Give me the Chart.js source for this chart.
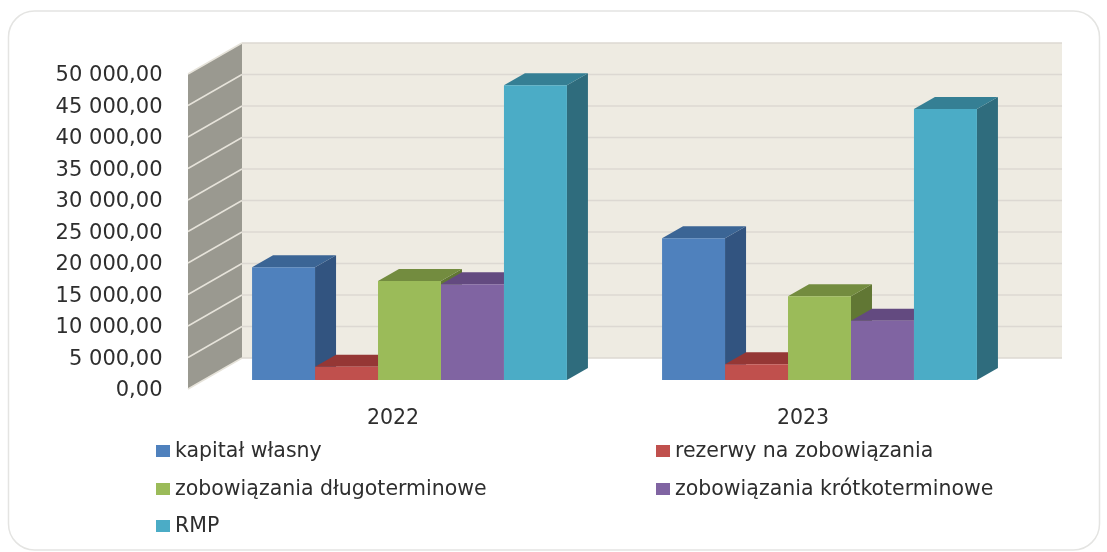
<!DOCTYPE html>
<html>
<head>
<meta charset="utf-8">
<style>
    html, body { margin: 0; padding: 0; background: #fff; }
    canvas { display: block; }
</style>
<script src="https://cdn.jsdelivr.net/npm/chart.js@4"></script>
</head>
<body>
<canvas id="barChart3d" width="1107" height="552"></canvas>
<script>
const years = ["2022", "2023"];
const seriesNames = ["kapitał własny", "rezerwy na zobowiązania", "zobowiązania długoterminowe", "zobowiązania krótkoterminowe", "RMP"];
const kapital = [17900, 22500];
const rezerwy = [2100, 2500];
const dlugie = [15700, 13300];
const krotkie = [15200, 9400];
const rmp = [46800, 43000];
const frontColors = ["#4f81bd", "#c0504d", "#9bbb59", "#8064a2", "#4bacc6"];
const topColors = ["#3b6595", "#953735", "#738c3f", "#634a80", "#357f94"];
const sideColors = ["#325480", "#7f302e", "#617734", "#523d6b", "#2f6c7d"];
const TEXT = "#2e2e2e";
const FONT = "DejaVu Sans";

function poly(ctx, pts, color) {
    ctx.fillStyle = color;
    ctx.beginPath();
    ctx.moveTo(pts[0][0], pts[0][1]);
    for (let i = 1; i < pts.length; i++) ctx.lineTo(pts[i][0], pts[i][1]);
    ctx.closePath();
    ctx.fill();
}

// rounded frame, left wall, back wall
const wallsPlugin = {
    id: "walls",
    beforeDatasetsDraw(chart) {
        const ctx = chart.ctx;
        const y = chart.scales.y;
        const frontX = 188, backX = 242, rightX = 1062;
        const drop = 9, rise = 31;
        const top = y.getPixelForValue(50000) + drop;
        const bottom = y.getPixelForValue(0) + drop;

        ctx.save();
        ctx.strokeStyle = "#e4e4e2";
        ctx.lineWidth = 1.5;
        ctx.beginPath();
        ctx.roundRect(8.5, 11, 1091, 539, 26);
        ctx.stroke();

        poly(ctx, [[backX, top - rise], [rightX, top - rise], [rightX, bottom - rise], [backX, bottom - rise]], "#eeebe2");
        poly(ctx, [[frontX, top], [backX, top - rise], [backX, bottom - rise], [frontX, bottom]], "#9a9990");

        y.ticks.forEach(function (t) {
            const py = y.getPixelForValue(t.value) + drop;
            ctx.strokeStyle = "#e6e3da";
            ctx.lineWidth = 1.5;
            ctx.beginPath();
            ctx.moveTo(frontX, py);
            ctx.lineTo(backX, py - rise);
            ctx.stroke();
            ctx.strokeStyle = "#dcd8d2";
            ctx.beginPath();
            ctx.moveTo(backX, py - rise);
            ctx.lineTo(rightX, py - rise);
            ctx.stroke();
        });

        // top and side faces of the bars
        const dx = 21, dy = 12;
        chart.data.datasets.forEach(function (ds, i) {
            chart.getDatasetMeta(i).data.forEach(function (bar) {
                const p = bar.getProps(["x", "y", "base", "width"], true);
                const l = p.x - p.width / 2, r = p.x + p.width / 2;
                poly(ctx, [[r, p.y], [r + dx, p.y - dy], [r + dx, p.base - dy], [r, p.base]], sideColors[i]);
                poly(ctx, [[l, p.y], [l + dx, p.y - dy], [r + dx, p.y - dy], [r, p.y]], topColors[i]);
            });
        });
        ctx.restore();
    },
    afterDraw(chart) {
        // legend in two columns, the built-in one can't lay out like this
        const ctx = chart.ctx;
        const cols = [156, 656];
        const rows = [452, 490, 527];
        ctx.save();
        ctx.font = "20.5px '" + FONT + "'";
        ctx.textBaseline = "middle";
        ctx.textAlign = "left";
        seriesNames.forEach(function (name, i) {
            const x = cols[i % 2];
            const yy = rows[Math.floor(i / 2)];
            ctx.fillStyle = frontColors[i];
            ctx.fillRect(x, yy - 7, 14, 12);
            ctx.fillStyle = TEXT;
            ctx.fillText(name, x + 19, yy);
        });
        ctx.restore();
    }
};

const seriesValues = [kapital, rezerwy, dlugie, krotkie, rmp];

new Chart(document.getElementById("barChart3d"), {
    type: "bar",
    data: {
        labels: years,
        datasets: seriesNames.map(function (name, i) {
            return {
                label: name,
                data: seriesValues[i],
                backgroundColor: frontColors[i],
                borderWidth: 0,
                barPercentage: 1,
                categoryPercentage: 0.768,
            };
        }),
    },
    options: {
        responsive: false,
        animation: false,
        layout: { padding: { left: 0, top: 65, right: 82.5, bottom: 112 } },
        plugins: { legend: { display: false }, tooltip: { enabled: false } },
        scales: {
            x: {
                grid: { display: false },
                border: { display: false },
                ticks: {
                    color: TEXT,
                    font: { family: FONT, size: 20.5 },
                    labelOffset: -16.5,
                    padding: 18,
                    maxRotation: 0,
                },
                afterFit(scale) {
                    scale.height = 60;
                    scale.paddingLeft = 0;
                    scale.paddingRight = 0;
                },
            },
            y: {
                min: 0,
                max: 50000,
                grid: { display: false },
                border: { display: false },
                ticks: {
                    stepSize: 5000,
                    color: TEXT,
                    font: { family: FONT, size: 21 },
                    labelOffset: 11,
                    padding: 34,
                    callback: function (v) {
                        return v.toFixed(2).replace(".", ",").replace(/\B(?=(\d{3})+(?!\d))(?=.*,)/g, " ");
                    },
                },
                afterFit(scale) {
                    scale.width = 204.5;
                    scale.paddingTop = 0;
                    scale.paddingBottom = 0;
                },
            },
        },
    },
    plugins: [wallsPlugin],
});
</script>
</body>
</html>
